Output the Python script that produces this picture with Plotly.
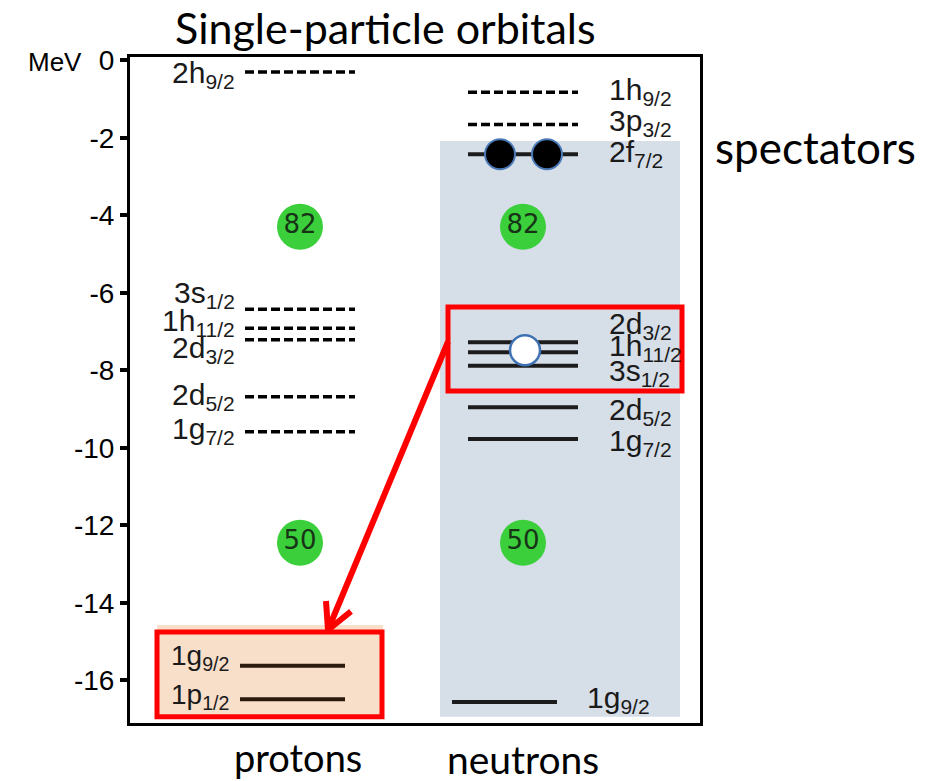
import plotly.graph_objects as go

# Single-particle levels (energies in MeV)
proton_orbitals = ["2h<sub>9/2</sub>", "3s<sub>1/2</sub>", "1h<sub>11/2</sub>", "2d<sub>3/2</sub>",
                   "2d<sub>5/2</sub>", "1g<sub>7/2</sub>", "1g<sub>9/2</sub>", "1p<sub>1/2</sub>"]
proton_energy = [-0.30, -6.42, -6.91, -7.21, -8.68, -9.58, -15.62, -16.49]
proton_filled = [False, False, False, False, False, False, True, True]

neutron_orbitals = ["1h<sub>9/2</sub>", "3p<sub>3/2</sub>", "2f<sub>7/2</sub>", "2d<sub>3/2</sub>",
                    "1h<sub>11/2</sub>", "3s<sub>1/2</sub>", "2d<sub>5/2</sub>", "1g<sub>7/2</sub>",
                    "1g<sub>9/2</sub>"]
neutron_energy = [-0.82, -1.65, -2.42, -7.27, -7.53, -7.88, -8.95, -9.77, -16.56]
neutron_filled = [False, False, True, True, True, True, True, True, True]

magic_numbers = [82, 50]
magic_energy = [-4.29, -12.45]

# particles on 2f7/2 (spectators) and the hole in 1h11/2
particle_level = "2f<sub>7/2</sub>"
hole_level = "1h<sub>11/2</sub>"

tick_values = [0, -2, -4, -6, -8, -10, -12, -14, -16]
tick_labels = ["0", "-2", "-4", "-6", "-8", "-10", "-12", "-14", "-16"]

# ---- layout helpers (horizontal coordinate runs across the frame) ----
X0, X1 = 130, 700
PROTON_X, NEUTRON_X = 300, 523
Y_TOP, Y_BOT = 0.09, -17.10

# label vertical placement (spread apart where levels crowd together)
proton_label_y = [-0.37, -6.05, -6.75, -7.47, -8.68, -9.54, -15.42, -16.42]
neutron_label_y = [-0.81, -1.59, -2.39, -6.83, -7.42, -8.06, -9.07, -9.87, -16.50]

LABEL_FONT = dict(family="Liberation Sans, Arial, sans-serif", size=30, color="#1a1a1a")
TEXT_FONT = "Lato, Open Sans, sans-serif"

fig = go.Figure()

# shaded regions and highlight boxes
fig.add_shape(type="rect", x0=440, x1=680, y0=-16.94, y1=-2.08,
              fillcolor="#d6dee8", line=dict(width=0), layer="below")
fig.add_shape(type="rect", x0=157, x1=383, y0=-16.97, y1=-14.57,
              fillcolor="#f8dfca", line=dict(width=0), layer="below")
fig.add_shape(type="rect", x0=157, x1=382, y0=-16.94, y1=-14.75,
              fillcolor="rgba(0,0,0,0)", line=dict(color="#ff0000", width=5), layer="below")
fig.add_shape(type="rect", x0=448, x1=682, y0=-8.53, y1=-6.36,
              fillcolor="rgba(0,0,0,0)", line=dict(color="#ff0000", width=5), layer="below")


def add_level(x0, x1, e, filled, color):
    fig.add_trace(go.Scatter(
        x=[x0, x1], y=[e, e], mode="lines", hoverinfo="skip",
        line=dict(color=color, width=4 if filled else 3.5,
                  dash="solid" if filled else "9px,4px")))


for name, e, filled in zip(proton_orbitals, proton_energy, proton_filled):
    if filled:
        add_level(240, 345, e, True, "#2b1a0e")
    else:
        add_level(245, 355, e, False, "#000000")

for name, e, filled in zip(neutron_orbitals, neutron_energy, neutron_filled):
    if name == "1g<sub>9/2</sub>":
        add_level(452, 557, e, True, "#1c1c1c")
    else:
        add_level(468, 578, e, filled, "#1c1c1c" if filled else "#000000")

# orbital labels
for name, ly, filled in zip(proton_orbitals, proton_label_y, proton_filled):
    fig.add_annotation(x=237 if not filled else 231, y=ly, text=name, showarrow=False,
                       xanchor="right", yanchor="middle",
                       font=dict(LABEL_FONT, size=30 if not filled else 28))
for name, ly in zip(neutron_orbitals, neutron_label_y):
    fig.add_annotation(x=585 if name == "1g<sub>9/2</sub>" else 607, y=ly, text=name,
                       showarrow=False, xanchor="left", yanchor="middle", font=LABEL_FONT)

# magic-number gaps
for xc in (PROTON_X, NEUTRON_X):
    fig.add_trace(go.Scatter(
        x=[xc] * len(magic_numbers), y=magic_energy, mode="markers+text",
        text=[str(m) for m in magic_numbers], textposition="middle center",
        textfont=dict(family="DejaVu Sans, sans-serif", size=26, color="#173417"),
        marker=dict(size=46, color="#3bcf3b", line=dict(width=0)), hoverinfo="skip"))

# spectator neutrons and the neutron hole
e_part = neutron_energy[neutron_orbitals.index(particle_level)]
e_hole = neutron_energy[neutron_orbitals.index(hole_level)]
fig.add_trace(go.Scatter(x=[500, 547], y=[e_part, e_part], mode="markers", hoverinfo="skip",
                         marker=dict(size=30, color="#000000", line=dict(color="#4a7ab8", width=2))))
fig.add_trace(go.Scatter(x=[525], y=[e_hole + 0.05], mode="markers", hoverinfo="skip",
                         marker=dict(size=30, color="#ffffff", line=dict(color="#3f72b3", width=2.5))))

# red arrow from the neutron box to the proton box
fig.add_trace(go.Scatter(x=[448, 328], y=[-7.26, -14.70], mode="lines", hoverinfo="skip",
                         line=dict(color="#ff0000", width=6)))
fig.add_trace(go.Scatter(x=[326, 328, 351], y=[-13.95, -14.70, -14.22], mode="lines",
                         hoverinfo="skip", line=dict(color="#ff0000", width=6)))


# texts around the frame (paper coordinates from pixel positions)
def px(x):
    return (x - 130) / 570


def py(y):
    return (723 - y) / 666


def outer_text(x, y, text, size, family=TEXT_FONT):
    fig.add_annotation(x=px(x), y=py(y), xref="paper", yref="paper", text=text,
                       showarrow=False, xanchor="center", yanchor="middle",
                       font=dict(family=family, size=size, color="#000000"))


outer_text(385, 27, "Single-particle orbitals", 43)
outer_text(815, 147, "spectators", 44)
outer_text(298, 757, "protons", 38)
outer_text(523, 759, "neutrons", 39)
outer_text(55, 62, "MeV", 26, "Liberation Sans, Arial, sans-serif")

fig.update_layout(
    width=942, height=781,
    margin=dict(l=130, r=242, t=57, b=58),
    paper_bgcolor="white", plot_bgcolor="white",
    showlegend=False,
    xaxis=dict(range=[X0, X1], showline=True, mirror=True, linecolor="black", linewidth=3,
               showticklabels=False, ticks="", showgrid=False, zeroline=False, fixedrange=True),
    yaxis=dict(range=[Y_BOT, Y_TOP], showline=True, mirror=True, linecolor="black", linewidth=3,
               ticks="outside", ticklen=7, tickwidth=4, tickcolor="black",
               tickvals=tick_values, ticktext=tick_labels,
               tickfont=dict(family="Liberation Sans, Arial, sans-serif", size=28, color="#000000"),
               showgrid=False, zeroline=False, fixedrange=True),
)

fig.write_html("out.html")
